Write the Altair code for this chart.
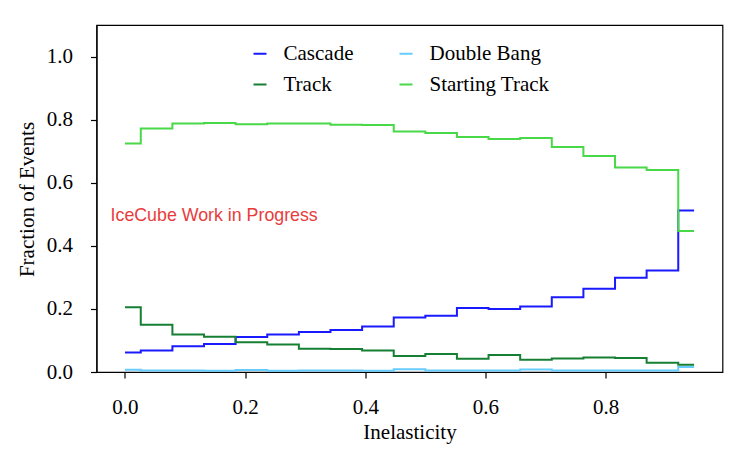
import altair as alt
import pandas as pd

# bin centres (inelasticity)
x_vals = [0.0, 0.0526, 0.1053, 0.1579, 0.2105, 0.2632, 0.3158, 0.3684, 0.4211, 0.4737,
          0.5263, 0.5789, 0.6316, 0.6842, 0.7368, 0.7895, 0.8421, 0.8947, 0.9474]

cascade = [0.062, 0.068, 0.082, 0.089, 0.111, 0.119, 0.127, 0.133, 0.144, 0.173,
           0.178, 0.203, 0.200, 0.208, 0.237, 0.264, 0.299, 0.322, 0.512]
track = [0.205, 0.150, 0.119, 0.112, 0.094, 0.087, 0.074, 0.073, 0.068, 0.051,
         0.057, 0.042, 0.054, 0.039, 0.043, 0.046, 0.044, 0.029, 0.023]
double_bang = [0.007, 0.005, 0.005, 0.004, 0.006, 0.004, 0.005, 0.005, 0.004, 0.009,
               0.005, 0.005, 0.005, 0.008, 0.005, 0.005, 0.005, 0.005, 0.016]
starting_track = [0.724, 0.772, 0.788, 0.789, 0.785, 0.788, 0.788, 0.784, 0.783, 0.762,
                  0.758, 0.745, 0.739, 0.742, 0.713, 0.685, 0.648, 0.640, 0.447]

series_names = ["Cascade", "Track", "Double Bang", "Starting Track"]
series_colors = ["#1a1aff", "#157f33", "#66ccff", "#48d848"]
series_values = {"Cascade": cascade, "Double Bang": double_bang,
                 "Track": track, "Starting Track": starting_track}

x_ticks = [0.0, 0.2, 0.4, 0.6, 0.8]
y_ticks = [0.0, 0.2, 0.4, 0.6, 0.8, 1.0]

note_text = ["IceCube Work in Progress"]
note_x = [-0.024]
note_y = [0.48]

rows = []
for name in series_names:
    for xv, yv in zip(x_vals, series_values[name]):
        rows.append({"x": xv, "y": yv, "series": name})
df = pd.DataFrame(rows)
note_df = pd.DataFrame({"x": note_x, "y": note_y, "t": note_text})

SERIF = "Liberation Serif"

xscale = alt.Scale(domain=[-0.0474, 0.9947], nice=False, zero=False)
yscale = alt.Scale(domain=[0, 1.1], nice=False, zero=False)

lines = alt.Chart(df).mark_line(interpolate="step", strokeWidth=2).encode(
    x=alt.X("x:Q", scale=xscale,
            axis=alt.Axis(values=x_ticks, format=".1f", title="Inelasticity",
                          titleBaseline="alphabetic", titleY=66)),
    y=alt.Y("y:Q", scale=yscale,
            axis=alt.Axis(values=y_ticks, format=".1f", title="Fraction of Events",
                          titleBaseline="alphabetic", titleX=-63, titleY=174)),
    color=alt.Color("series:N",
                    scale=alt.Scale(domain=series_names, range=series_colors),
                    legend=alt.Legend(orient="none", legendX=153, legendY=18,
                                      columns=2, title=None, padding=0,
                                      symbolType="stroke", symbolStrokeWidth=2,
                                      symbolSize=169, labelFont=SERIF,
                                      labelFontSize=21, labelColor="black",
                                      labelOffset=13, columnPadding=42,
                                      rowPadding=9)),
)

note = alt.Chart(note_df).mark_text(
    align="left", baseline="alphabetic", font="Liberation Sans",
    fontSize=17.8, color="#e83c3c"
).encode(x=alt.X("x:Q", scale=xscale), y=alt.Y("y:Q", scale=yscale), text="t:N")

chart = alt.layer(lines, note).properties(
    width=626, height=347,
    autosize=alt.AutoSizeParams(type="none"),
    padding={"left": 88.5, "top": 17, "right": 10, "bottom": 80},
).configure_view(
    stroke="black", strokeWidth=1.2
).configure_axis(
    grid=False, domainColor="black", domainWidth=1.2, tickColor="black",
    tickSize=6, tickWidth=1.2, labelFont=SERIF, labelFontSize=21,
    labelColor="black", labelPadding=18, titleFont=SERIF, titleFontSize=21,
    titleFontWeight="normal", titleColor="black"
)

chart.save("out.html", embed_options={"renderer": "svg", "actions": False})
